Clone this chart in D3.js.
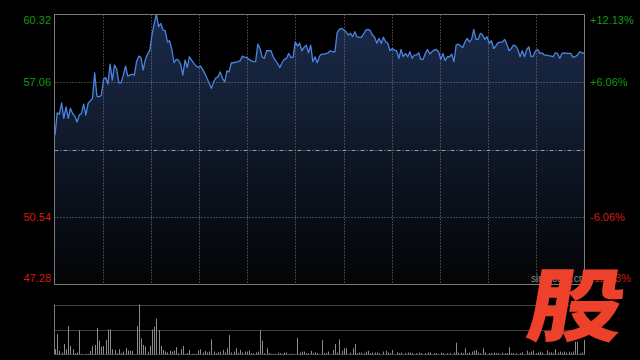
<!DOCTYPE html>
<html>
<head>
<meta charset="utf-8">
<script src="https://cdn.jsdelivr.net/npm/d3@7"></script>
<style>
  html, body { margin: 0; padding: 0; background: #000; }
  svg { display: block; }
</style>
</head>
<body>
<div id="chart"></div>
<script>
const width = 640;
const height = 360;
const plot = { left: 54.5, right: 584.5, top: 14.5, bottom: 284.5 };
const vol = { top: 304.5, bottom: 354.5 };

// price axis (previous close in the middle)
const prevClose = 53.80;
const priceTicks = [60.32, 57.06, 50.54, 47.28];
const pctTicks = ["+12.13%", "+6.06%", "-6.06%", "-12.13%"];
const gridDivisions = 11;

// minute index (0..240) and last price
const priceMinute = [0,1,2,3,4,5,6,7,8,9,10,11,12,13,14,15,17,18,19,20,21,22,23,24,25,26,27,28,29,30,31,32,33,35,36,37,38,39,40,41,42,43,44,45,46,47,48,49,50,51,52,53,54,55,56,57,58,59,60,61,62,63,64,65,66,67,68,69,70,71,72,73,74,75,76,77,78,79,80,81,83,84,85,86,87,88,89,90,91,92,93,94,95,96,98,99,100,101,102,103,104,105,106,107,108,109,110,111,112,113,114,115,116,117,118,119,120,121,122,124,125,126,127,128,129,130,131,132,133,134,135,136,137,138,139,140,141,142,143,144,145,146,147,148,149,150,151,152,153,154,155,156,157,158,159,160,161,162,163,164,165,166,167,168,169,170,171,172,173,174,175,176,177,178,179,180,181,182,183,184,185,186,187,188,189,190,191,192,193,194,195,196,197,198,199,200,201,203,204,205,206,207,208,209,210,211,212,213,214,215,216,217,218,219,220,221,222,223,225,226,227,228,229,230,231,232,234,235,236,237,238,240];
const priceValue = [54.49,55.57,55.51,56.05,55.30,55.86,55.30,55.78,55.54,55.41,55.13,55.46,55.54,55.99,55.46,56.02,56.27,57.50,56.38,56.34,56.42,57.18,57.28,56.96,57.92,57.15,57.88,57.67,57.02,57.02,57.39,57.83,57.34,57.44,57.39,58.04,58.31,58.25,57.63,58.15,58.41,58.60,59.33,59.89,60.32,59.73,59.89,59.57,59.54,59.00,59.05,58.63,57.99,58.15,58.12,57.92,57.39,58.12,57.76,58.28,58.12,57.96,57.83,57.76,57.83,57.67,57.47,57.23,56.99,56.75,57.07,57.26,57.31,57.55,57.23,57.07,57.60,57.55,57.99,57.99,58.04,58.09,58.31,58.25,58.25,58.15,58.09,58.04,58.04,58.89,58.68,58.28,58.20,58.57,58.57,58.28,58.09,57.96,57.76,57.99,58.15,58.20,58.44,58.25,58.25,59.00,58.80,58.93,58.57,58.73,58.84,58.47,58.84,58.04,58.28,57.99,58.31,58.41,58.41,58.47,58.57,58.52,58.52,59.44,59.60,59.65,59.57,59.49,59.33,59.41,59.25,59.49,59.25,59.22,59.22,59.38,59.57,59.60,59.54,59.33,59.22,58.93,59.17,58.93,59.22,59.00,58.93,58.57,58.68,58.60,58.57,58.20,58.63,58.28,58.44,58.28,58.52,58.20,58.36,58.36,58.47,58.15,58.15,58.44,58.63,58.41,58.52,58.60,58.63,58.52,58.15,58.44,58.09,58.28,58.28,58.41,58.04,58.84,58.89,58.80,58.73,59.00,59.17,59.00,59.12,59.60,59.12,59.12,59.41,59.33,59.12,59.25,58.93,59.05,58.68,58.80,58.96,59.00,59.12,58.89,58.57,58.68,58.84,58.80,58.63,58.28,58.57,58.28,58.63,58.76,58.28,58.31,58.57,58.63,58.44,58.47,58.36,58.36,58.31,58.28,58.47,58.44,58.20,58.44,58.47,58.44,58.44,58.25,58.28,58.36,58.52,58.44];

// minute index and volume (lots)
const volMinute = [0,1,2,3,4,5,6,7,8,9,10,11,12,14,15,16,17,18,19,20,21,22,23,24,25,26,27,28,29,30,31,32,33,34,35,37,38,39,40,41,42,43,44,45,46,47,48,49,50,51,52,53,54,55,56,57,58,59,60,61,62,63,64,65,66,67,68,69,70,71,72,73,74,75,76,77,78,79,80,81,82,83,84,85,86,87,88,89,90,91,92,93,94,95,96,97,98,99,100,101,102,103,104,105,106,107,108,110,111,112,113,114,115,116,117,118,119,121,122,123,124,126,127,128,129,130,131,132,134,135,136,137,138,139,140,141,142,143,144,145,146,147,149,150,151,152,153,155,156,157,159,160,161,162,164,165,166,168,169,170,172,173,175,176,178,179,181,182,183,184,185,186,187,188,189,190,191,192,193,194,195,197,198,199,200,201,203,204,205,206,207,208,209,211,212,214,215,216,217,218,219,220,221,223,224,225,226,227,228,229,230,231,232,233,234,235,236,237,238,239,240];
const volAmount = [1600,6200,1100,600,3200,1600,8600,2600,1600,400,600,7400,200,200,200,1100,2600,2900,8100,4200,2400,2600,4400,7600,7600,1600,1400,400,1600,400,900,1900,1200,1100,1100,8600,15200,4900,2900,2400,900,2600,7600,8400,10900,7400,2600,1400,900,600,1100,900,1200,2200,400,1600,2600,200,400,1400,200,200,200,1200,1600,600,1100,600,900,4600,900,400,700,900,1400,600,1900,5900,600,900,1900,400,1400,600,900,900,1200,400,400,600,900,7400,4200,400,1900,400,200,200,200,600,400,200,600,600,200,200,200,5100,600,900,900,400,400,1100,400,700,400,4400,400,400,900,1400,3200,600,4600,1100,1900,1900,600,1900,3200,400,600,600,400,900,1100,400,600,600,600,400,900,1100,600,400,1400,600,400,600,400,600,600,400,400,600,400,400,600,600,400,400,600,400,400,400,600,3600,600,600,400,1900,400,600,900,1200,1400,600,400,1900,600,400,400,600,400,400,600,400,400,2200,400,400,400,400,600,1200,600,900,1200,400,600,900,600,1200,600,600,400,1600,600,900,600,900,600,900,600,900,3900,3900,400,600,4400];

const priceData = priceMinute.map((m, i) => ({ m, p: priceValue[i] }));
const volData = volMinute.map((m, i) => ({ m, v: volAmount[i] }));

const svg = d3.select("#chart")
  .append("svg")
  .attr("width", width)
  .attr("height", height)
  .style("background", "#000");

const x = d3.scaleLinear()
  .domain([0, 240])
  .range([55, 584]);

const y = d3.scaleLinear()
  .domain([priceTicks[3], priceTicks[0]])
  .range([plot.bottom, plot.top]);

const vy = d3.scaleLinear()
  .domain([0, d3.max(volAmount)])
  .range([vol.bottom, vol.top]);

const grad = svg.append("defs")
  .append("linearGradient")
  .attr("id", "fillGrad")
  .attr("gradientUnits", "userSpaceOnUse")
  .attr("x1", 0).attr("y1", plot.top)
  .attr("x2", 0).attr("y2", plot.bottom);
grad.append("stop").attr("offset", 0).attr("stop-color", "#1b2b4c");
grad.append("stop").attr("offset", 0.5).attr("stop-color", "#0f1828");
grad.append("stop").attr("offset", 1).attr("stop-color", "#030405");

// area + line
const area = d3.area()
  .x(d => x(d.m))
  .y0(plot.bottom)
  .y1(d => y(d.p));

svg.append("path")
  .datum(priceData)
  .attr("d", area)
  .attr("fill", "url(#fillGrad)");

// grid
const gridColor = "#7c7c7c";
const vLines = d3.range(1, gridDivisions).map(i => plot.left + (plot.right - plot.left) * i / gridDivisions);
svg.append("g")
  .selectAll("line")
  .data(vLines)
  .enter()
  .append("line")
  .attr("x1", d => Math.round(d) + 0.5)
  .attr("x2", d => Math.round(d) + 0.5)
  .attr("y1", plot.top)
  .attr("y2", plot.bottom)
  .attr("stroke", gridColor)
  .attr("stroke-dasharray", "1,2");

svg.append("g")
  .selectAll("line")
  .data([priceTicks[1], priceTicks[2]])
  .enter()
  .append("line")
  .attr("x1", plot.left)
  .attr("x2", plot.right)
  .attr("y1", d => Math.round(y(d)) + 0.5)
  .attr("y2", d => Math.round(y(d)) + 0.5)
  .attr("stroke", gridColor)
  .attr("stroke-dasharray", "1,2");

svg.append("line")
  .attr("x1", plot.left)
  .attr("x2", plot.right)
  .attr("y1", Math.round(y(prevClose)) + 0.5)
  .attr("y2", Math.round(y(prevClose)) + 0.5)
  .attr("stroke", "#9a9a9a")
  .attr("stroke-dasharray", "4,2,1,2");

const line = d3.line()
  .x(d => x(d.m))
  .y(d => y(d.p));

svg.append("path")
  .datum(priceData)
  .attr("d", line)
  .attr("fill", "none")
  .attr("stroke", "#4a84e0")
  .attr("stroke-width", 1.3)
  .attr("stroke-linejoin", "round");

// frame
svg.append("rect")
  .attr("x", plot.left)
  .attr("y", plot.top)
  .attr("width", plot.right - plot.left)
  .attr("height", plot.bottom - plot.top)
  .attr("fill", "none")
  .attr("stroke", "#7a7a7a");

// volume panel
svg.append("g")
  .selectAll("line")
  .data([vol.top, (vol.top + vol.bottom) / 2])
  .enter()
  .append("line")
  .attr("x1", plot.left)
  .attr("x2", plot.right)
  .attr("y1", d => Math.round(d) + 0.5)
  .attr("y2", d => Math.round(d) + 0.5)
  .attr("stroke", gridColor)
  .attr("stroke-dasharray", "1,1");

svg.append("line")
  .attr("x1", plot.left).attr("x2", plot.left)
  .attr("y1", vol.top).attr("y2", vol.bottom)
  .attr("stroke", "#7a7a7a");

svg.append("line")
  .attr("x1", plot.left).attr("x2", plot.right)
  .attr("y1", vol.bottom).attr("y2", vol.bottom)
  .attr("stroke", "#444");

svg.append("g")
  .selectAll("line")
  .data(volData)
  .enter()
  .append("line")
  .attr("x1", d => Math.round(x(d.m)) + 0.5)
  .attr("x2", d => Math.round(x(d.m)) + 0.5)
  .attr("y1", vol.bottom)
  .attr("y2", d => vy(d.v))
  .attr("stroke", "#8c8c8c");

// axis labels
const tickColor = (d, i) => i < 2 ? "#129a12" : "#d41a10";
const yOffset = (i) => i === 0 ? 6 : (i === 3 ? -6 : 0);

svg.append("g")
  .selectAll("text")
  .data(priceTicks)
  .enter()
  .append("text")
  .attr("x", 51)
  .attr("y", (d, i) => y(d) + yOffset(i))
  .attr("dy", "0.35em")
  .attr("text-anchor", "end")
  .attr("fill", tickColor)
  .style("font", "11px 'Liberation Sans', Arial, sans-serif")
  .text(d => d.toFixed(2));

// watermark text under the logo
svg.append("text")
  .attr("x", 531)
  .attr("y", 282)
  .attr("fill", "#8a8a8a")
  .style("font", "10px 'Liberation Sans', Arial, sans-serif")
  .text("sina.com.cn");

svg.append("g")
  .selectAll("text")
  .data(pctTicks)
  .enter()
  .append("text")
  .attr("x", 590)
  .attr("y", (d, i) => y(priceTicks[i]) + yOffset(i))
  .attr("dy", "0.35em")
  .attr("fill", tickColor)
  .style("font", "11px 'Liberation Sans', Arial, sans-serif")
  .text(d => d);

// logo watermark
svg.append("text")
  .attr("transform", "translate(524,335) scale(1.2,1) skewX(-8)")
  .attr("fill", "#ee412c")
  .style("font-family", "'Noto Sans CJK SC', sans-serif")
  .style("font-weight", 900)
  .style("font-size", "80px")
  .text("股");
</script>
</body>
</html>
